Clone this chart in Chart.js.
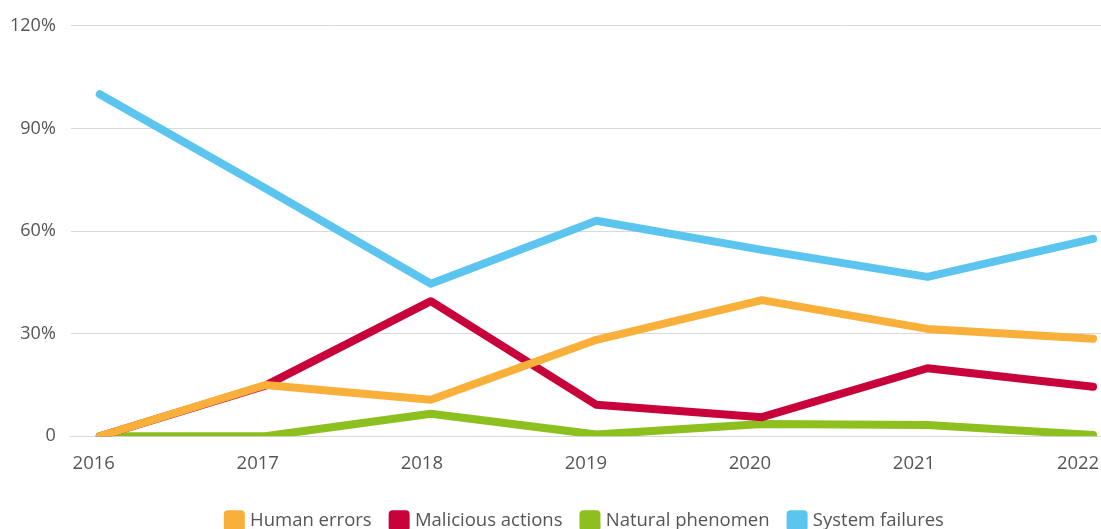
<!DOCTYPE html>
<html>
<head>
<meta charset="utf-8">
<script src="https://cdn.jsdelivr.net/npm/chart.js@4.4.1/dist/chart.umd.min.js"></script>
<style>
  html, body { margin: 0; padding: 0; background: #fff; }
  #wrap { width: 1101px; height: 529px; position: relative; }
</style>
</head>
<body>
<div id="wrap"><canvas id="incidents"></canvas></div>
<script>
// years on the x axis
var years = [2016, 2017, 2018, 2019, 2020, 2021, 2022];
// share of incidents per cause, in %
var humanErrors = [0, 15, 10.7, 28.2, 39.8, 31.4, 28.5];
var maliciousActions = [0, 14.8, 39.5, 9.2, 5.6, 19.9, 14.5];
var naturalPhenomen = [0, 0, 6.6, 0.5, 3.6, 3.3, 0.4];
var systemFailures = [100, 72.5, 44.6, 63, 54.5, 46.6, 57.7];
var yTicks = [0, 30, 60, 90, 120];

function pts(vals) {
    return vals.map(function(v, i) { return { x: years[i], y: v }; });
}

function line(label, vals, color) {
    return {
        label: label,
        data: pts(vals),
        borderColor: color,
        backgroundColor: color,
        borderWidth: 8,
        borderCapStyle: 'round',
        borderJoinStyle: 'round',
        pointRadius: 0,
        tension: 0
    };
}

Chart.defaults.font.family = "'Open Sans', sans-serif";
Chart.defaults.color = '#666';

var ctx = document.getElementById("incidents");
var chart = new Chart(ctx, {
    type: 'line',
    data: {
        datasets: [
            line('Human errors', humanErrors, '#f8b03b'),
            line('Malicious actions', maliciousActions, '#c8033c'),
            line('Natural phenomen', naturalPhenomen, '#8dbf1e'),
            line('System failures', systemFailures, '#5bc5f0')
        ]
    },
    options: {
        responsive: true,
        maintainAspectRatio: false,
        animation: false,
        layout: { padding: { left: -5, right: 0, top: 16, bottom: -11 } },
        plugins: {
            tooltip: { enabled: false },
            legend: {
                position: 'bottom',
                fullSize: false,
                labels: {
                    boxWidth: 13,
                    boxHeight: 13,
                    padding: 21,
                    color: '#555',
                    font: { size: 18.5 }
                }
            }
        },
        scales: {
            // data axis: carries the points and the baseline
            x: {
                type: 'linear',
                min: 2015.825,
                max: 2022.048,
                grid: { display: false },
                border: { display: true, color: '#d9d9d9', width: 1 },
                ticks: { display: false },
                afterFit: function(s) { s.height = 0; s.paddingRight = 0; s.paddingLeft = 0; }
            },
            // year labels sit a little left of the points, like the original
            x2: {
                type: 'linear',
                position: 'bottom',
                min: 2015.86,
                max: 2022.14,
                grid: { display: false },
                border: { display: false },
                afterFit: function(s) { s.height += 8; s.paddingRight = 0; s.paddingLeft = 0; },
                ticks: {
                    stepSize: 1,
                    includeBounds: false,
                    color: '#555',
                    font: { size: 18.5 },
                    padding: 8,
                    callback: function(v) { return years.indexOf(v) >= 0 ? String(v) : ''; }
                }
            },
            y: {
                min: 0,
                max: 120,
                afterBuildTicks: function(axis) {
                    axis.ticks = yTicks.map(function(v) { return { value: v }; });
                },
                grid: { color: '#d9d9d9', drawTicks: false, lineWidth: 1 },
                border: { display: false },
                ticks: {
                    color: '#555',
                    font: { size: 18 },
                    padding: 15,
                    callback: function(v) { return v === 0 ? '0' : v + '%'; }
                }
            }
        }
    }
});
</script>
</body>
</html>
